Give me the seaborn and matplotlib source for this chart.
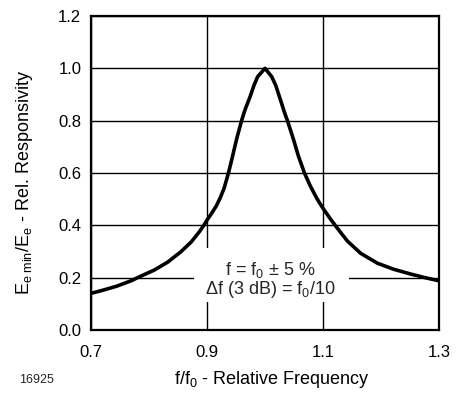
import matplotlib
matplotlib.use("Agg")
import matplotlib.pyplot as plt
import seaborn as sns
import pandas as pd
from matplotlib.patches import Rectangle

# ---- data ----
freq = [0.700, 0.722, 0.745, 0.769, 0.786, 0.809, 0.832, 0.855, 0.873, 0.887,
        0.8945, 0.900, 0.908, 0.916, 0.923, 0.9295, 0.937, 0.943, 0.951, 0.9596,
        0.9653, 0.974, 0.981, 0.9873, 1.000,
        1.0116, 1.0185, 1.026, 1.0335, 1.0387, 1.049, 1.0577, 1.068, 1.078, 1.0896,
        1.100, 1.112, 1.121, 1.131, 1.142, 1.165, 1.194, 1.222, 1.251, 1.274, 1.300]
resp = [0.140, 0.153, 0.168, 0.188, 0.206, 0.229, 0.259, 0.299, 0.337, 0.376,
        0.400, 0.420, 0.446, 0.474, 0.506, 0.542, 0.600, 0.654, 0.729, 0.800,
        0.840, 0.890, 0.935, 0.968, 1.000,
        0.968, 0.935, 0.884, 0.832, 0.800, 0.729, 0.664, 0.600, 0.551, 0.502,
        0.465, 0.427, 0.400, 0.371, 0.340, 0.293, 0.255, 0.232, 0.214, 0.201, 0.188]
x_ticks = [0.7, 0.9, 1.1, 1.3]
y_ticks = [0.0, 0.2, 0.4, 0.6, 0.8, 1.0, 1.2]
x_tick_labels = ["0.7", "0.9", "1.1", "1.3"]
y_tick_labels = ["0.0", "0.2", "0.4", "0.6", "0.8", "1.0", "1.2"]
note_lines = [r"f = f$_\mathregular{0}$ ± 5 %", r"Δf (3 dB) = f$_\mathregular{0}$/10"]
figure_id = "16925"

sns.set_theme(style="white")
plt.rcParams["font.family"] = ["Liberation Sans", "DejaVu Sans"]
plt.rcParams["mathtext.fontset"] = "custom"
plt.rcParams["mathtext.rm"] = "Liberation Sans"
plt.rcParams["mathtext.it"] = "Liberation Sans:italic"
plt.rcParams["mathtext.bf"] = "Liberation Sans:bold"

df = pd.DataFrame({"freq": freq, "resp": resp})

fig = plt.figure(figsize=(4.57, 3.94), dpi=100)
ax = fig.add_axes([91 / 457, 64 / 394, 348 / 457, 314 / 394])

ax.set_axisbelow(True)
ax.grid(True, color="black", linewidth=1.0)

# white box behind the annotation
ax.add_patch(Rectangle((0.878, 0.107), 1.145 - 0.878, 0.313 - 0.107,
                       facecolor="white", edgecolor="none", zorder=1))

sns.lineplot(data=df, x="freq", y="resp", color="black", linewidth=2.6,
             ax=ax, zorder=3, sort=False)

ax.set_xlim(0.7, 1.3)
ax.set_ylim(0.0, 1.2)
ax.set_xticks(x_ticks)
ax.set_xticklabels(x_tick_labels)
ax.set_yticks(y_ticks)
ax.set_yticklabels(y_tick_labels)
ax.tick_params(axis="x", length=0, pad=11, labelsize=12, colors="black")
ax.tick_params(axis="y", length=0, pad=7, labelsize=12, colors="black")

for s in ax.spines.values():
    s.set_color("black")
    s.set_linewidth(1.6)

ax.text(1.009, 0.229, note_lines[0], ha="center", va="center", fontsize=13, zorder=4)
ax.text(1.009, 0.153, note_lines[1], ha="center", va="center", fontsize=13, zorder=4)

ax.set_xlabel(r"f/f$_\mathregular{0}$ - Relative Frequency", fontsize=13, color="black")
ax.xaxis.label.set_va("center")
ax.xaxis.set_label_coords(0.52, -0.159)
ax.set_ylabel(r"E$_\mathregular{e\ min}$/E$_\mathregular{e}$ - Rel. Responsivity",
              fontsize=13, color="black")
ax.yaxis.label.set_va("center")
ax.yaxis.set_label_coords(-0.19, 0.47)

fig.text(36.7 / 457, 1 - 380 / 394, figure_id, ha="center", va="center", fontsize=9)

fig.savefig("out.png", dpi=100)
